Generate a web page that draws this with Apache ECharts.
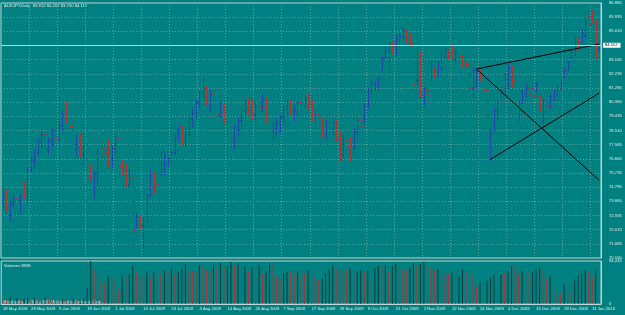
<!DOCTYPE html>
<html>
<head>
<meta charset="UTF-8">
<title>AUDJPY,Daily</title>
<script src="https://cdn.jsdelivr.net/npm/echarts@6/dist/echarts.min.js"></script>
<style>
    body { margin: 0; background: #008080; }
    #chart { width: 625px; height: 315px; }
</style>
</head>
<body>
<div id="chart"></div>
<script>
    // trading days from 18 May 2009, weekends and these holidays skipped
    var firstDay = [2009, 4, 18];
    var barCount = 171;
    var holidays = ['2009-12-25', '2010-01-01'];
    var monthNames = ['Jan','Feb','Mar','Apr','May','Jun','Jul','Aug','Sep','Oct','Nov','Dec'];

    var priceLabels = ['70.160','71.085','72.010','72.935','73.860','74.785','75.735','76.660','77.585',
        '78.510','79.435','80.360','81.285','82.235','83.160','','85.010','85.935','86.880'];
    var priceMin = 70.16, priceMax = 86.88;
    var lastPrice = 84.112;
    var volumeMax = 94242;

    var opens = [74.1,74.5,73.0,73.7,74.1,73.9,74.6,74.3,75.9,76.6,77.1,77.8,78.3,77.3,77.8,78.5,78.0,78.9,79.5,79.4,
        78.8,77.3,78.0,77.0,77.3,76.3,74.8,75.4,77.2,77.4,77.6,76.4,77.4,78.0,76.2,76.3,75.0,75.4,72.2,72.9,
        72.3,72.6,74.3,75.7,75.6,75.7,76.0,76.3,76.5,77.1,78.3,78.5,77.8,78.5,79.3,79.7,80.4,81.0,81.3,80.5,
        80.9,79.9,79.6,80.1,79.3,78.1,77.6,78.6,79.2,79.8,80.3,80.0,79.6,80.2,80.1,80.6,79.3,78.5,78.7,79.0,
        79.4,79.9,80.3,79.8,79.9,80.4,80.2,80.6,80.2,79.4,79.6,78.9,78.3,79.0,78.6,79.1,78.2,77.0,77.9,77.7,
        77.4,78.4,79.2,79.1,80.1,81.1,81.6,81.5,82.5,83.3,83.6,84.1,83.8,84.5,84.7,85.1,84.5,84.2,81.8,83.4,
        80.9,81.2,81.9,82.6,82.2,82.6,83.4,83.8,83.9,83.2,83.6,83.4,83.1,82.9,81.3,81.5,82.4,81.9,81.2,78.0,
        78.5,79.8,80.7,81.1,81.5,82.7,81.8,79.5,80.3,80.8,81.3,81.3,81.1,80.7,79.2,80.7,80.1,80.6,80.9,81.3,
        82.1,82.5,83.3,83.5,84.5,84.3,84.7,86.0,86.2,85.6,83.912];
    var highs = [74.8,74.6,73.9,74.4,74.5,74.4,75.2,76.1,76.8,77.3,78.0,78.6,78.4,78.0,78.7,78.9,79.1,79.8,80.4,79.7,
        79.0,78.2,78.3,77.6,77.5,76.4,75.9,77.4,77.6,77.8,77.9,77.6,78.3,78.1,76.6,76.4,76.0,75.5,73.1,73.0,
        72.8,74.4,75.9,75.8,75.8,77.1,77.1,76.8,77.2,78.3,78.8,78.9,78.7,79.5,80.0,80.6,81.2,81.9,81.5,81.2,
        81.0,80.3,80.4,80.3,79.5,78.5,78.8,79.4,80.0,80.6,80.7,80.5,80.4,80.8,80.9,80.7,79.5,79.0,79.3,79.6,
        80.2,80.5,80.6,80.2,80.6,80.9,80.8,81.0,80.5,79.9,79.9,79.4,79.2,79.4,79.3,79.3,78.4,78.2,78.2,78.0,
        78.7,79.4,79.4,80.3,81.3,81.8,81.8,82.0,83.5,84.1,84.3,84.3,84.8,84.9,85.3,85.2,84.9,84.3,83.9,83.7,
        81.4,82.3,83.1,82.7,83.1,83.8,83.9,83.8,84.1,83.8,83.7,83.5,83.1,83.0,82.7,82.6,82.5,82.0,81.5,78.6,
        80.0,80.5,81.4,82.2,82.9,82.8,82.0,80.5,81.2,81.6,81.4,81.4,81.7,80.8,80.7,81.0,81.0,81.2,81.5,81.8,
        82.7,83.1,83.9,84.6,84.6,85.1,85.9,86.2,86.4,85.8,84.207];
    var lows = [73.5,73.3,72.6,73.6,73.6,73.1,74.0,73.8,75.8,76.1,76.9,77.4,77.0,77.0,77.5,77.8,77.8,78.5,79.0,78.6,
        77.0,76.9,76.8,76.2,75.8,75.2,74.1,75.0,76.9,76.9,76.2,76.2,77.0,75.8,75.7,74.8,74.9,71.1,72.1,72.1,
        70.8,72.5,74.3,74.5,74.9,75.6,75.7,76.2,76.4,77.0,77.9,77.6,77.6,78.2,78.8,79.4,80.1,80.6,80.2,79.8,
        79.6,79.2,79.4,79.0,77.8,77.2,77.4,78.2,78.7,79.4,79.6,79.3,79.2,79.7,79.8,79.0,78.2,77.9,78.3,78.4,
        79.1,79.5,79.6,79.2,79.6,80.0,79.9,80.0,79.2,78.8,78.6,78.1,78.0,78.3,78.3,77.9,76.6,76.8,77.1,76.6,
        77.3,78.1,78.7,79.0,80.0,81.0,81.2,81.3,82.5,83.3,82.8,83.6,83.5,84.0,84.6,84.3,84.1,81.3,81.6,80.8,
        80.2,80.7,81.8,82.0,82.1,82.5,83.3,83.3,83.3,83.1,83.3,82.7,82.7,81.0,80.7,81.3,81.8,81.0,78.7,76.6,
        78.5,79.2,80.7,81.0,81.3,81.4,80.5,79.2,80.3,80.7,80.7,80.7,81.0,79.8,78.7,79.9,80.0,80.5,80.8,81.2,
        82.0,82.5,83.3,83.5,83.8,84.3,84.7,85.4,85.6,83.3,83.75];
    var closes = [74.5,73.7,73.7,74.1,73.9,74.2,74.3,75.9,76.6,77.1,77.8,78.3,77.3,77.8,78.5,78.0,78.9,79.5,79.4,78.8,
        77.3,78.0,77.0,77.3,76.0,75.4,75.7,77.2,77.0,77.1,76.4,77.4,78.0,76.2,76.0,75.0,75.7,72.0,72.9,72.3,
        72.6,74.2,75.7,74.7,75.0,76.9,76.9,76.7,77.1,78.0,78.5,77.8,78.5,79.3,79.7,80.4,81.0,81.3,80.5,80.9,
        79.9,79.6,80.1,79.3,78.1,77.6,78.6,79.2,79.8,80.3,80.0,79.6,80.2,80.1,80.6,79.3,78.5,78.7,79.0,79.4,
        79.9,80.3,79.8,79.9,80.4,80.2,80.6,80.2,79.4,79.6,78.9,78.3,79.0,78.6,79.1,78.2,77.0,77.9,77.5,76.9,
        78.5,79.2,78.8,80.1,81.1,81.7,81.6,81.9,83.3,83.8,84.1,83.8,84.6,84.7,85.1,84.5,84.3,81.6,83.5,81.0,
        81.2,80.9,82.9,82.2,83.0,83.6,83.8,83.5,83.4,83.7,83.4,82.8,82.8,81.3,82.5,82.4,81.9,81.2,79.0,78.4,
        79.8,80.4,81.2,81.9,82.7,81.6,80.7,80.3,81.0,81.4,80.9,80.8,81.6,80.0,80.5,80.1,80.8,81.1,81.4,81.7,
        82.5,83.0,83.8,84.4,83.9,85.0,85.7,85.5,85.8,83.7,84.112];
    var volumes = [12000,9000,14000,11000,13000,8000,12500,15000,10000,13500,11000,9500,14500,12000,10500,9000,8500,11000,10000,9500,
        12000,8000,9000,10000,35900,94242,74050,60590,53860,47120,60590,60590,53860,31420,60590,60590,65080,83030,69560,62830,
        62830,69560,58340,69560,69560,65080,74050,69560,78540,65080,69560,76300,87520,74050,71810,69560,83030,83030,74050,69560,
        85270,80780,89760,80780,83030,92000,83030,89760,80780,83030,71810,80780,74050,85270,67320,71810,89760,87520,60590,53860,
        67320,69560,69560,65080,69560,67320,67320,74050,69560,62830,53860,56100,67320,76300,85270,76300,74050,74050,74050,78540,
        65080,71810,74050,69560,74050,53860,78540,83030,83030,85270,71810,83030,87520,80780,76300,74050,78540,89760,85270,87520,
        92000,87520,80780,74050,76300,69560,67320,67320,69560,56100,60590,76300,69560,69560,65080,38150,47120,47120,51610,58340,
        62830,60590,67320,67320,71810,83030,83030,67320,71810,69560,67320,69560,76300,78540,76300,56100,60590,38150,24680,24680,
        42640,40390,24680,53860,62830,67320,74050,69560,60590,74050,9858];

    // trend lines drawn on the chart: [bar index, price]
    var trendLines = [
        [[135, 82.55], [170, 84.19]],
        [[135, 82.55], [170, 75.25]],
        [[139, 76.63], [170, 80.97]]
    ];

    function pad(n) { return n < 10 ? '0' + n : '' + n; }

    var dates = [];
    var day = new Date(Date.UTC(firstDay[0], firstDay[1], firstDay[2]));
    while (dates.length < barCount) {
        var wd = day.getUTCDay();
        var key = day.getUTCFullYear() + '-' + pad(day.getUTCMonth() + 1) + '-' + pad(day.getUTCDate());
        if (wd != 0 && wd != 6 && holidays.indexOf(key) < 0) {
            dates.push(day.getUTCDate() + ' ' + monthNames[day.getUTCMonth()] + ' ' + day.getUTCFullYear());
        }
        day = new Date(day.getTime() + 86400000);
    }

    var upColor = '#1f48a8', downColor = '#b03434';
    var volUpColor = '#0e3a3a', volDownColor = '#b03434';
    var textColor = '#e4eeee';
    var gridColor = '#5aa6a6';
    var frameColor = '#c4d4d4';
    var fontFamily = 'Liberation Sans';
    var fontSize = 4.2;

    var barData = [];
    for (var i = 0; i < barCount; i++) {
        barData.push([i, opens[i], highs[i], lows[i], closes[i]]);
    }

    function renderBar(params, api) {
        var i = api.value(0);
        var o = api.value(1), h = api.value(2), l = api.value(3), c = api.value(4);
        var pTop = api.coord([i, h]);
        var pBot = api.coord([i, l]);
        var pOpen = api.coord([i, o]);
        var pClose = api.coord([i, c]);
        var x = Math.round(pTop[0]) + 0.5;
        var yo = Math.round(pOpen[1]) + 0.5;
        var yc = Math.round(pClose[1]) + 0.5;
        var style = { stroke: c >= o ? upColor : downColor, lineWidth: 1 };
        return {
            type: 'group',
            children: [
                { type: 'line', shape: { x1: x, y1: Math.round(pTop[1]), x2: x, y2: Math.round(pBot[1]) + 1 }, style: style },
                { type: 'line', shape: { x1: x - 1.5, y1: yo, x2: x, y2: yo }, style: style },
                { type: 'line', shape: { x1: x, y1: yc, x2: x + 1.5, y2: yc }, style: style }
            ]
        };
    }

    var dateTick = function (index) { return index % 8 === 0; };

    var series = [{
        type: 'custom',
        xAxisIndex: 0,
        yAxisIndex: 0,
        renderItem: renderBar,
        encode: { x: 0, y: [1, 2, 3, 4] },
        data: barData,
        silent: true,
        z: 3,
        markLine: {
            silent: true,
            symbol: 'none',
            lineStyle: { color: '#c8d0d0', width: 1, type: 'solid' },
            label: {
                position: 'end',
                formatter: lastPrice.toFixed(3),
                color: '#000',
                backgroundColor: '#ffffff',
                fontSize: fontSize,
                fontFamily: fontFamily,
                padding: [1, 3, 0, 2],
                distance: 2
            },
            data: [{ yAxis: lastPrice }]
        }
    }];

    trendLines.forEach(function (pts) {
        series.push({
            type: 'line',
            xAxisIndex: 0,
            yAxisIndex: 0,
            data: pts,
            symbol: 'none',
            silent: true,
            z: 4,
            lineStyle: { color: '#000000', width: 1 }
        });
    });

    series.push({
        type: 'bar',
        xAxisIndex: 1,
        yAxisIndex: 2,
        barWidth: 1,
        silent: true,
        data: volumes,
        itemStyle: {
            color: function (p) {
                var i = p.dataIndex;
                return (i > 0 && volumes[i] > volumes[i - 1]) ? volUpColor : volDownColor;
            }
        }
    });

    var labelStyle = { color: textColor, fontSize: fontSize, fontFamily: fontFamily };
    var textFont = fontSize + 'px ' + fontFamily;

    var option = {
        backgroundColor: '#008080',
        animation: false,
        graphic: [
            { type: 'text', left: 4, top: 4, style: { text: 'AUDJPY,Daily  83.912 84.207 83.750 84.112', fill: textColor, font: textFont } },
            { type: 'text', left: 4, top: 264, style: { text: 'Volumes 9858', fill: textColor, font: textFont } },
            { type: 'text', left: 3, top: 300, style: { text: 'Metatrader, \u00a9 2001-2009 MetaQuotes Software Corp.', fill: textColor, font: textFont } }
        ],
        grid: [
            { left: 1, right: 24, top: 3, height: 255, show: true, borderColor: frameColor, borderWidth: 1, backgroundColor: 'transparent' },
            { left: 1, right: 24, top: 261, height: 43, show: true, borderColor: frameColor, borderWidth: 1, backgroundColor: 'transparent' }
        ],
        xAxis: [{
            type: 'category',
            gridIndex: 0,
            data: dates,
            boundaryGap: true,
            axisLine: { show: false },
            axisTick: { show: false },
            axisLabel: { show: false },
            splitLine: { show: true, interval: dateTick, lineStyle: { color: gridColor, type: [1, 2], width: 1 } }
        }, {
            type: 'category',
            gridIndex: 1,
            data: dates,
            boundaryGap: true,
            axisLine: { show: true, lineStyle: { color: frameColor } },
            axisTick: { show: false },
            axisLabel: Object.assign({ interval: dateTick, align: 'left', margin: 3 }, labelStyle),
            splitLine: { show: false }
        }],
        yAxis: [{
            type: 'value',
            gridIndex: 0,
            position: 'right',
            min: priceMin,
            max: priceMax,
            axisLine: { show: false },
            axisTick: { show: false },
            axisLabel: { show: false },
            splitLine: { show: false }
        }, {
            type: 'value',
            gridIndex: 0,
            position: 'right',
            min: 0,
            max: priceLabels.length - 1,
            interval: 1,
            axisLine: { show: true, lineStyle: { color: frameColor } },
            axisTick: { show: false },
            axisLabel: Object.assign({
                margin: 8,
                formatter: function (v) { return priceLabels[Math.round(v)]; }
            }, labelStyle),
            splitLine: { show: true, lineStyle: { color: gridColor, type: [1, 2], width: 1 } }
        }, {
            type: 'value',
            gridIndex: 1,
            position: 'right',
            min: 0,
            max: volumeMax,
            interval: volumeMax,
            axisLine: { show: true, lineStyle: { color: frameColor } },
            axisTick: { show: false },
            axisLabel: Object.assign({ margin: 8 }, labelStyle),
            splitLine: { show: false }
        }],
        series: series
    };

    var chart = echarts.init(document.getElementById('chart'));
    chart.setOption(option);
</script>
</body>
</html>
